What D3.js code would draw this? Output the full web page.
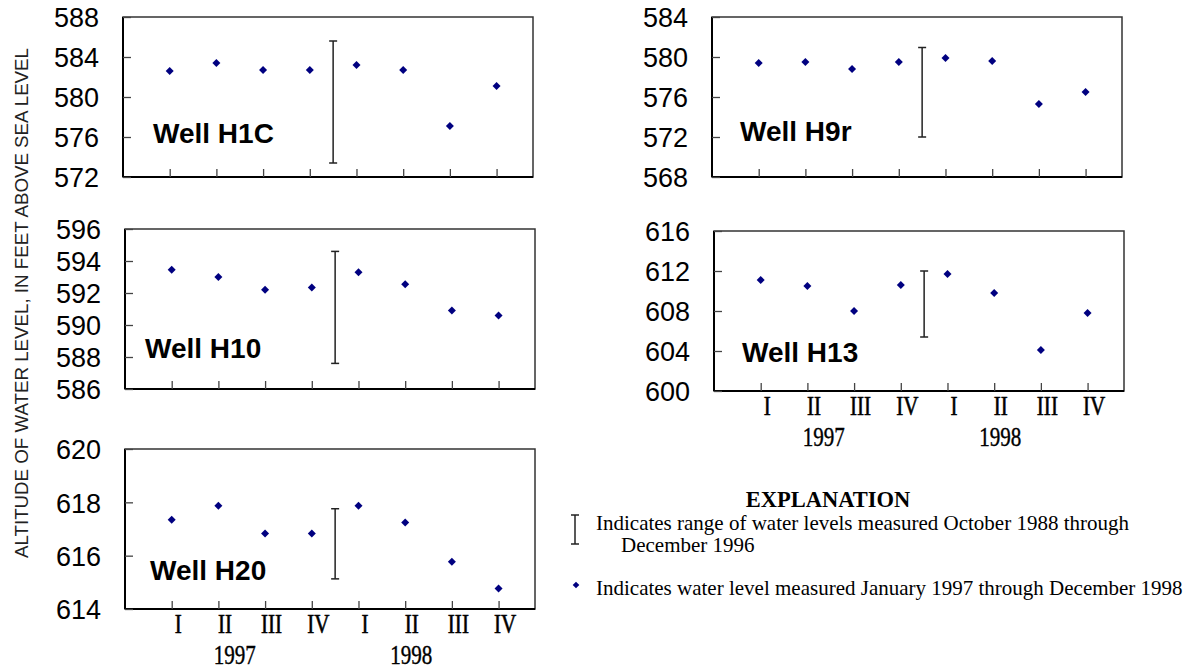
<!DOCTYPE html>
<html><head><meta charset="utf-8">
<script src="https://cdn.jsdelivr.net/npm/d3@7"></script>
<style>body{margin:0;background:#fff}svg{display:block;background:#fff}</style>
</head><body>
<svg id="chart" width="1195" height="670"></svg>
<script>
// ---- data ----
const wells = ["Well H1C", "Well H9r", "Well H10", "Well H13", "Well H20"];
const quarters = ["I", "II", "III", "IV", "I", "II", "III", "IV"];
const years = ["1997", "1998"];

const levelsH1C = [582.6, 583.4, 582.7, 582.7, 583.2, 582.7, 577.1, 581.1];
const levelsH9r = [579.4, 579.5, 578.8, 579.5, 579.9, 579.6, 575.3, 576.5];
const levelsH10 = [593.45, 593.0, 592.2, 592.35, 593.3, 592.55, 590.9, 590.6];
const levelsH13 = [611.1, 610.5, 608.0, 610.6, 611.7, 609.8, 604.1, 607.8];
const levelsH20 = [617.35, 617.87, 616.83, 616.83, 617.87, 617.24, 615.77, 614.77];

const rangeH1C = [573.4, 585.6];
const rangeH9r = [572.0, 580.95];
const rangeH10 = [587.6, 594.6];
const rangeH13 = [605.4, 612.0];
const rangeH20 = [615.13, 617.76];

const ticksH1C = [572, 576, 580, 584, 588];
const ticksH9r = [568, 572, 576, 580, 584];
const ticksH10 = [586, 588, 590, 592, 594, 596];
const ticksH13 = [600, 604, 608, 612, 616];
const ticksH20 = [614, 616, 618, 620];

const yAxisTitle = "ALTITUDE OF WATER LEVEL, IN FEET ABOVE SEA LEVEL";
const legendTitle = "EXPLANATION";
const legendRangeText = ["Indicates range of water levels measured October 1988 through", "December 1996"];
const legendPointText = "Indicates water level measured January 1997 through December 1998";

// ---- layout (positions/styles only) ----
const layout = [
  {left: 123, top: 17, labelDx: 30, labelDy: -34, showX: false},
  {left: 712, top: 17, labelDx: 28, labelDy: -36, showX: false},
  {left: 125, top: 229, labelDx: 20, labelDy: -31, showX: false},
  {left: 714, top: 231, labelDx: 28, labelDy: -29, showX: true},
  {left: 125, top: 449, labelDx: 25, labelDy: -29, showX: true}
];
const panelW = 410, panelH = 160;
const levelsAll = [levelsH1C, levelsH9r, levelsH10, levelsH13, levelsH20];
const rangesAll = [rangeH1C, rangeH9r, rangeH10, rangeH13, rangeH20];
const ticksAll = [ticksH1C, ticksH9r, ticksH10, ticksH13, ticksH20];
const yearPos = [2.35, 6.13];

const svg = d3.select("#chart");
const sans = "'Liberation Sans', Arial, sans-serif";
const serif = "'Liberation Serif', 'Times New Roman', serif";
const navy = "#000080";

const x = d3.scaleLinear().domain([0, 8.78]).range([0, panelW]);

wells.forEach((name, p) => {
  const L = layout[p];
  const ticks = ticksAll[p];
  const y = d3.scaleLinear().domain([ticks[0], ticks[ticks.length - 1]]).range([panelH, 0]);
  const g = svg.append("g").attr("transform", `translate(${L.left},${L.top})`);

  // frame
  g.append("rect").attr("x", 0).attr("y", 0).attr("width", panelW).attr("height", panelH)
    .attr("fill", "none").attr("stroke", "#333").attr("stroke-width", 1.5);
  g.append("line").attr("x1", 0).attr("x2", 0).attr("y1", 0).attr("y2", panelH)
    .attr("stroke", "#000").attr("stroke-width", 2);
  g.append("line").attr("x1", 0).attr("x2", panelW).attr("y1", panelH).attr("y2", panelH)
    .attr("stroke", "#000").attr("stroke-width", 2);

  // y axis
  const ya = g.append("g").call(d3.axisLeft(y).tickValues(ticks).tickSize(-8).tickPadding(24).tickFormat(d3.format("d")));
  ya.select(".domain").remove();
  ya.selectAll(".tick line").attr("stroke", "#444").attr("stroke-width", 1.3);
  ya.selectAll(".tick text").attr("font-family", sans).attr("font-size", 27).attr("fill", "#000").attr("dy", "0.36em");

  // x axis
  const xa = g.append("g").attr("transform", `translate(0,${panelH})`)
    .call(d3.axisBottom(x).tickValues(d3.range(1, quarters.length + 1)).tickSize(-8)
      .tickFormat((d, i) => L.showX ? quarters[i] : ""));
  xa.select(".domain").remove();
  xa.selectAll(".tick line").attr("stroke", "#444").attr("stroke-width", 1.3);
  xa.selectAll(".tick text")
    .attr("font-family", serif).attr("font-size", 27).attr("fill", "#000")
    .attr("stroke", "#000").attr("stroke-width", 0.6)
    .attr("y", 0).attr("dy", 0)
    .attr("transform", "translate(6,24) scale(0.78,1)");

  if (L.showX) {
    g.selectAll(".year").data(years).join("text")
      .attr("transform", (d, i) => `translate(${x(yearPos[i])},${panelH + 55}) scale(0.78,1)`)
      .attr("text-anchor", "middle")
      .attr("font-family", serif).attr("font-size", 27).attr("fill", "#000")
      .attr("stroke", "#000").attr("stroke-width", 0.4)
      .text(d => d);
  }

  // range bar
  const r = rangesAll[p];
  const rx = x(4.5);
  const rg = g.append("g").attr("stroke", "#222").attr("stroke-width", 1.5);
  rg.append("line").attr("x1", rx).attr("x2", rx).attr("y1", y(r[0])).attr("y2", y(r[1]));
  rg.append("line").attr("x1", rx - 4).attr("x2", rx + 4).attr("y1", y(r[0])).attr("y2", y(r[0]));
  rg.append("line").attr("x1", rx - 4).attr("x2", rx + 4).attr("y1", y(r[1])).attr("y2", y(r[1]));

  // points
  const sym = d3.symbol(d3.symbolSquare, 32)();
  g.selectAll(".pt").data(levelsAll[p]).join("path")
    .attr("d", sym)
    .attr("transform", (d, i) => `translate(${x(i + 1)},${y(d)}) rotate(45)`)
    .attr("fill", navy);

  // well label
  g.append("text").attr("x", L.labelDx).attr("y", panelH + L.labelDy)
    .attr("font-family", sans).attr("font-weight", "bold").attr("font-size", 28).attr("fill", "#000")
    .text(name);
});

// y axis title
svg.append("text")
  .attr("transform", "translate(28,303) rotate(-90)")
  .attr("text-anchor", "middle")
  .attr("font-family", sans).attr("font-size", 19).attr("fill", "#222")
  .attr("textLength", 510).attr("lengthAdjust", "spacingAndGlyphs")
  .text(yAxisTitle);

// legend
const lg = svg.append("g");
lg.append("text").attr("x", 828).attr("y", 507).attr("text-anchor", "middle")
  .attr("font-family", serif).attr("font-weight", "bold").attr("font-size", 22.5).attr("fill", "#000")
  .text(legendTitle);
const lb = lg.append("g").attr("stroke", "#222").attr("stroke-width", 1.5);
lb.append("line").attr("x1", 575).attr("x2", 575).attr("y1", 515).attr("y2", 544);
lb.append("line").attr("x1", 571).attr("x2", 579).attr("y1", 515).attr("y2", 515);
lb.append("line").attr("x1", 571).attr("x2", 579).attr("y1", 544).attr("y2", 544);
lg.append("text").attr("x", 596).attr("y", 530)
  .attr("font-family", serif).attr("font-size", 21).attr("fill", "#000").text(legendRangeText[0]);
lg.append("text").attr("x", 621).attr("y", 552)
  .attr("font-family", serif).attr("font-size", 21).attr("fill", "#000").text(legendRangeText[1]);
lg.append("path").attr("d", d3.symbol(d3.symbolSquare, 22)())
  .attr("transform", "translate(576,585) rotate(45)").attr("fill", navy);
lg.append("text").attr("x", 596).attr("y", 595)
  .attr("font-family", serif).attr("font-size", 21).attr("fill", "#000").text(legendPointText);
</script>
</body></html>
